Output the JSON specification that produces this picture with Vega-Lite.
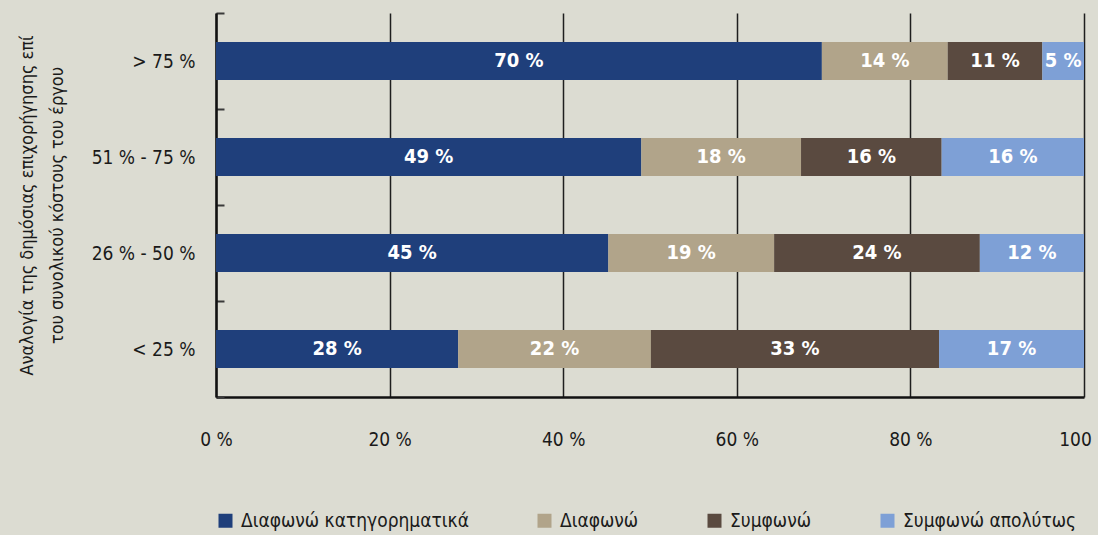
{
  "$schema": "https://vega.github.io/schema/vega-lite/v6.json",
  "autosize": "none",
  "width": 868,
  "height": 384,
  "padding": {"left": 216, "top": 13, "right": 14, "bottom": 138},
  "background": "#dcdcd2",
  "config": {
    "font": "'DejaVu Sans Condensed', 'Liberation Sans', sans-serif",
    "view": {"stroke": null}
  },
  "data": {
    "values": [
      {"cat": "> 75 %", "resp": "Διαφωνώ κατηγορηματικά", "o": 1, "v": 69.8, "label": "70 %"},
      {"cat": "> 75 %", "resp": "Διαφωνώ", "o": 2, "v": 14.5, "label": "14 %"},
      {"cat": "> 75 %", "resp": "Συμφωνώ", "o": 3, "v": 10.9, "label": "11 %"},
      {"cat": "> 75 %", "resp": "Συμφωνώ απολύτως", "o": 4, "v": 4.8, "label": "5 %"},
      {"cat": "51 % - 75 %", "resp": "Διαφωνώ κατηγορηματικά", "o": 1, "v": 49.0, "label": "49 %"},
      {"cat": "51 % - 75 %", "resp": "Διαφωνώ", "o": 2, "v": 18.4, "label": "18 %"},
      {"cat": "51 % - 75 %", "resp": "Συμφωνώ", "o": 3, "v": 16.2, "label": "16 %"},
      {"cat": "51 % - 75 %", "resp": "Συμφωνώ απολύτως", "o": 4, "v": 16.4, "label": "16 %"},
      {"cat": "26 % - 50 %", "resp": "Διαφωνώ κατηγορηματικά", "o": 1, "v": 45.2, "label": "45 %"},
      {"cat": "26 % - 50 %", "resp": "Διαφωνώ", "o": 2, "v": 19.1, "label": "19 %"},
      {"cat": "26 % - 50 %", "resp": "Συμφωνώ", "o": 3, "v": 23.7, "label": "24 %"},
      {"cat": "26 % - 50 %", "resp": "Συμφωνώ απολύτως", "o": 4, "v": 12.0, "label": "12 %"},
      {"cat": "< 25 %", "resp": "Διαφωνώ κατηγορηματικά", "o": 1, "v": 27.9, "label": "28 %"},
      {"cat": "< 25 %", "resp": "Διαφωνώ", "o": 2, "v": 22.2, "label": "22 %"},
      {"cat": "< 25 %", "resp": "Συμφωνώ", "o": 3, "v": 33.2, "label": "33 %"},
      {"cat": "< 25 %", "resp": "Συμφωνώ απολύτως", "o": 4, "v": 16.7, "label": "17 %"}
    ]
  },
  "encoding": {
    "y": {
      "field": "cat",
      "type": "nominal",
      "sort": ["> 75 %", "51 % - 75 %", "26 % - 50 %", "< 25 %"],
      "scale": {"paddingInner": 0, "paddingOuter": 0},
      "axis": {
        "title": ["Αναλογία της δημόσιας επιχορήγησης  επί", "του συνολικού κόστους του έργου"],
        "titleFontSize": 18,
        "titleFontWeight": "normal",
        "titleColor": "#1a1a1a",
        "titleAngle": -90,
        "titleAlign": "center",
        "titleBaseline": "top",
        "titleLineHeight": 30,
        "titleX": -198,
        "titleY": 192,
        "labelFontSize": 19,
        "labelColor": "#1a1a1a",
        "labelPadding": 29,
        "tickBand": "extent",
        "tickSize": -8,
        "tickWidth": 2,
        "tickColor": "#3a3a3a",
        "domainColor": "#111111",
        "domainWidth": 2.5,
        "grid": false
      }
    },
    "x": {
      "field": "v",
      "type": "quantitative",
      "stack": "zero",
      "scale": {"domain": [0, 100], "nice": false},
      "axis": {
        "title": null,
        "values": [0, 20, 40, 60, 80, 100],
        "labelExpr": "datum.value == 100 ? '100' : datum.value + ' %'",
        "labelFlush": false,
        "labelOffset": {"condition": {"test": "datum.value == 100", "value": -9}, "value": 0},
        "labelFontSize": 19,
        "labelColor": "#1a1a1a",
        "labelPadding": 33,
        "labelBaseline": "top",
        "ticks": false,
        "grid": true,
        "gridColor": "#1e1e1e",
        "gridWidth": 1.5,
        "domainColor": "#111111",
        "domainWidth": 2.5
      }
    },
    "order": {"field": "o", "type": "quantitative"}
  },
  "layer": [
    {
      "mark": {"type": "bar", "height": 38},
      "encoding": {
        "color": {
          "field": "resp",
          "type": "nominal",
          "scale": {
            "domain": ["Διαφωνώ κατηγορηματικά", "Διαφωνώ", "Συμφωνώ", "Συμφωνώ απολύτως"],
            "range": ["#1f3f7b", "#b1a48a", "#5a4a40", "#7ea0d6"]
          },
          "legend": {
            "title": null,
            "orient": "none",
            "legendX": 0,
            "legendY": 498,
            "direction": "horizontal",
            "symbolType": "square",
            "symbolSize": 196,
            "symbolStrokeWidth": 0,
            "labelFontSize": 19,
            "labelColor": "#1a1a1a",
            "labelOffset": 6,
            "columnPadding": 66,
            "labelLimit": 400
          }
        }
      }
    },
    {
      "mark": {"type": "text", "color": "white", "fontSize": 20, "fontWeight": "bold", "baseline": "middle", "align": "center"},
      "encoding": {
        "x": {"field": "v", "type": "quantitative", "stack": "zero", "bandPosition": 0.5},
        "text": {"field": "label"}
      }
    }
  ]
}
